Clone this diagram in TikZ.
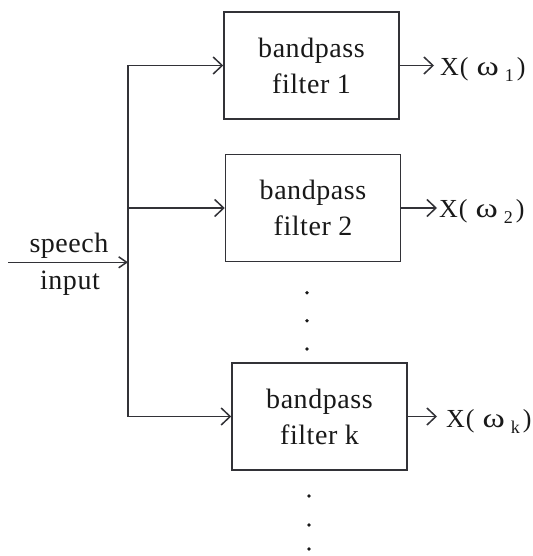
\documentclass[tikz,border=0pt]{standalone}
\usepackage{fontspec}
\usepackage{graphicx}
\setmainfont{Liberation Serif}
\newfontfamily\spacedfont[LetterSpace=2]{Liberation Serif}
\usetikzlibrary{arrows.meta}
\definecolor{linecol}{RGB}{50,50,55}
\definecolor{inkcol}{RGB}{25,25,25}
% output label X( omega_i )
\newcommand{\outlabel}[1]{X\hspace{1pt}(\hspace{8pt}\scalebox{1.3}[1.05]{ω}\hspace{6pt}\raisebox{-6pt}{\fontsize{18}{18}\selectfont #1}\hspace{3pt})}
\tikzset{
  wire/.style={draw=linecol, line width=1.5pt},
  feed/.style={wire, -{Straight Barb[length=9pt,width=17pt,line width=1.5pt]}},
  feedsmall/.style={wire, -{Straight Barb[length=8pt,width=11pt,line width=1.5pt]}},
  filterbox/.style={draw=linecol, line width=1.5pt, rectangle, minimum width=175pt,
    minimum height=107pt, inner sep=0pt, align=center, text=inkcol,
    font=\spacedfont\fontsize{28}{36}\selectfont},
  caption/.style={text=inkcol, inner sep=0pt, font=\spacedfont\fontsize{28}{30}\selectfont},
  outtext/.style={text=inkcol, inner sep=0pt, anchor=base west, font=\fontsize{26}{30}\selectfont},
  dotmark/.style={circle, fill=inkcol, inner sep=0pt, minimum size=3.8pt}
}
\begin{document}
\begin{tikzpicture}[x=1pt, y=1pt]
  \useasboundingbox[fill=white] (0,0) rectangle (532,-556);

  % filter bank
  \node[filterbox] (f1) at (311.5,-65.5) {bandpass\\filter 1};
  \node[filterbox] (f2) at (313,-208) {bandpass\\filter 2};
  \node[filterbox] (fk) at (319.5,-416.5) {bandpass\\filter k};

  % distribution spine
  \coordinate (j1) at (128,-65.5);
  \coordinate (j2) at (128,-208);
  \coordinate (jk) at (128,-416.5);
  \coordinate (src) at (8,-262.3);
  \coordinate (jin) at (128,-262.3);
  \draw[wire] (j1) -- (jk);
  \draw[feed] (j1) -- (f1.west);
  \draw[feed] (j2) -- (f2.west);
  \draw[feed] (jk) -- (fk.west);
  \draw[feedsmall] (src) -- (jin);

  % input caption
  \node[caption, anchor=base] (spch) at (69,-252) {speech};
  \node[caption, anchor=base] (inp) at (70,-289) {input};

  % outputs
  \coordinate (t1) at (434,-65.5);
  \coordinate (t2) at (437,-208);
  \coordinate (tk) at (437,-416.5);
  \draw[feed] (f1.east) -- (t1);
  \draw[feed] (f2.east) -- (t2);
  \draw[feed] (fk.east) -- (tk);
  \node[outtext] (o1) at (440,-76) {\outlabel{1}};
  \node[outtext] (o2) at (439,-217.7) {\outlabel{2}};
  \node[outtext] (ok) at (446,-427.7) {\outlabel{k}};

  % ellipsis dots
  \node[dotmark] (d1) at (307,-292.7) {};
  \node[dotmark] (d2) at (307,-320.7) {};
  \node[dotmark] (d3) at (307,-349) {};
  \node[dotmark] (d4) at (309,-496) {};
  \node[dotmark] (d5) at (309,-525) {};
  \node[dotmark] (d6) at (309,-549) {};
\end{tikzpicture}
\end{document}
